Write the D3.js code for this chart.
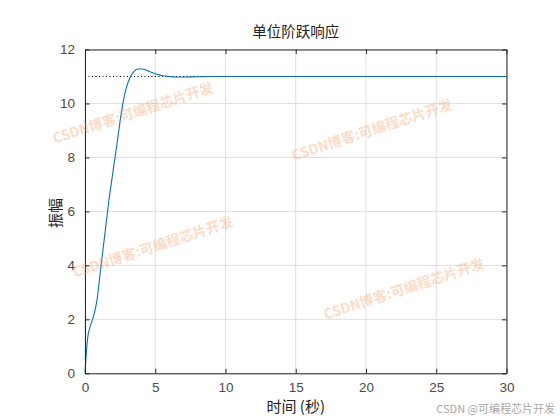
<!DOCTYPE html>
<html>
<head>
<meta charset="utf-8">
<script src="https://cdn.jsdelivr.net/npm/d3@7"></script>
<style>
  body { margin: 0; background: #fff; }
  text { font-family: "Liberation Sans", Arial, sans-serif; }
  .cjk { font-family: "Noto Sans CJK SC", sans-serif; }
</style>
</head>
<body>
<div id="viz"></div>
<script>
// step response
var timeVals = [0, 0.1, 0.2, 0.35, 0.6, 0.85, 1.1, 1.4, 1.7, 2.0, 2.3, 2.6, 2.9, 3.2, 3.5, 3.8, 4.1, 4.5, 5.0, 5.5, 6.0, 6.5, 7.0, 8.0, 9.0, 30];
var ampVals  = [0, 0.8, 1.35, 1.7, 2.1, 2.7, 3.8, 5.1, 6.4, 7.5, 8.6, 9.7, 10.5, 10.95, 11.2, 11.28, 11.28, 11.2, 11.1, 11.03, 11.0, 10.98, 10.98, 10.99, 11.0, 11.0];
var finalValue = 11;
var xTicks = [0, 5, 10, 15, 20, 25, 30];
var yTicks = [0, 2, 4, 6, 8, 10, 12];
var titleText = "单位阶跃响应";
var xLabel = "时间 (秒)";
var yLabel = "振幅";
var watermark = "CSDN博客:可编程芯片开发";
var footer = "CSDN @可编程芯片开发";

var W = 560, H = 420;
var margin = {top: 49.5, right: 53.5, bottom: 46.7, left: 85};
var width = W - margin.left - margin.right,
    height = H - margin.top - margin.bottom;

var svg = d3.select("#viz").append("svg")
  .attr("width", W).attr("height", H);

var g = svg.append("g")
  .attr("transform", "translate(" + margin.left + "," + margin.top + ")");

var x = d3.scaleLinear().domain([0, 30]).range([0, width]);
var y = d3.scaleLinear().domain([0, 12]).range([height, 0]);

// grid
g.append("g").selectAll("line").data(xTicks).join("line")
  .attr("x1", d => x(d)).attr("x2", d => x(d))
  .attr("y1", 0).attr("y2", height)
  .attr("stroke", "#dedede").attr("stroke-width", 1);
g.append("g").selectAll("line").data(yTicks).join("line")
  .attr("x1", 0).attr("x2", width)
  .attr("y1", d => y(d)).attr("y2", d => y(d))
  .attr("stroke", "#dedede").attr("stroke-width", 1);

// steady-state dotted line
g.append("line")
  .attr("x1", x(0)).attr("x2", x(30))
  .attr("y1", y(finalValue)).attr("y2", y(finalValue))
  .attr("stroke", "#000").attr("stroke-width", 1)
  .attr("stroke-dasharray", "1,2.5");

// response
var pts = timeVals.map((t, i) => [t, ampVals[i]]);
g.append("path").datum(pts)
  .attr("fill", "none")
  .attr("stroke", "#0a72b0")
  .attr("stroke-width", 1.1)
  .attr("d", d3.line()
    .x(d => x(d[0]))
    .y(d => y(d[1]))
    .curve(d3.curveMonotoneX));

// axes (box with inward ticks)
var tickLen = 4.5;
function styleAxis(sel) {
  sel.select(".domain").attr("stroke", "#262626");
  sel.selectAll(".tick line").attr("stroke", "#262626");
  sel.selectAll(".tick text").attr("fill", "#4a4a4a")
    .style("font-family", "'Liberation Sans', Arial, sans-serif")
    .style("font-size", "13.5px");
}
g.append("g").attr("transform", "translate(0," + height + ")")
  .call(d3.axisBottom(x).tickValues(xTicks).tickSizeInner(-tickLen).tickSizeOuter(0).tickPadding(9))
  .call(styleAxis);
g.append("g")
  .call(d3.axisLeft(y).tickValues(yTicks).tickSizeInner(-tickLen).tickSizeOuter(0).tickPadding(10))
  .call(styleAxis);
g.append("g")
  .call(d3.axisTop(x).tickValues(xTicks).tickSizeInner(-tickLen).tickSizeOuter(0).tickFormat(""))
  .call(styleAxis);
g.append("g").attr("transform", "translate(" + width + ",0)")
  .call(d3.axisRight(y).tickValues(yTicks).tickSizeInner(-tickLen).tickSizeOuter(0).tickFormat(""))
  .call(styleAxis);

// title and labels
svg.append("text").attr("class", "cjk")
  .attr("x", margin.left + width / 2).attr("y", 37)
  .attr("text-anchor", "middle")
  .attr("fill", "#222").style("font-size", "14.5px")
  .text(titleText);
svg.append("text").attr("class", "cjk")
  .attr("x", margin.left + width / 2).attr("y", 412)
  .attr("text-anchor", "middle")
  .attr("fill", "#222").style("font-size", "15px")
  .text(xLabel);
svg.append("text").attr("class", "cjk")
  .attr("transform", "translate(61,213) rotate(-90)")
  .attr("text-anchor", "middle")
  .attr("fill", "#222").style("font-size", "15px")
  .text(yLabel);

// watermarks
var marks = [[133, 113], [372, 130], [153, 247], [404, 289]];
svg.append("g").selectAll("text").data(marks).join("text")
  .attr("class", "cjk")
  .attr("transform", d => "translate(" + d[0] + "," + d[1] + ") rotate(-18)")
  .attr("text-anchor", "middle")
  .attr("dy", "0.35em")
  .attr("fill", "#f5a470").attr("fill-opacity", 0.4)
  .style("font-size", "14px").style("font-weight", "bold")
  .attr("textLength", 168)
  .text(watermark);

svg.append("text").attr("class", "cjk")
  .attr("x", 555).attr("y", 413)
  .attr("text-anchor", "end")
  .attr("fill", "#a8a8a8").style("font-size", "11px")
  .text(footer);
</script>
</body>
</html>
